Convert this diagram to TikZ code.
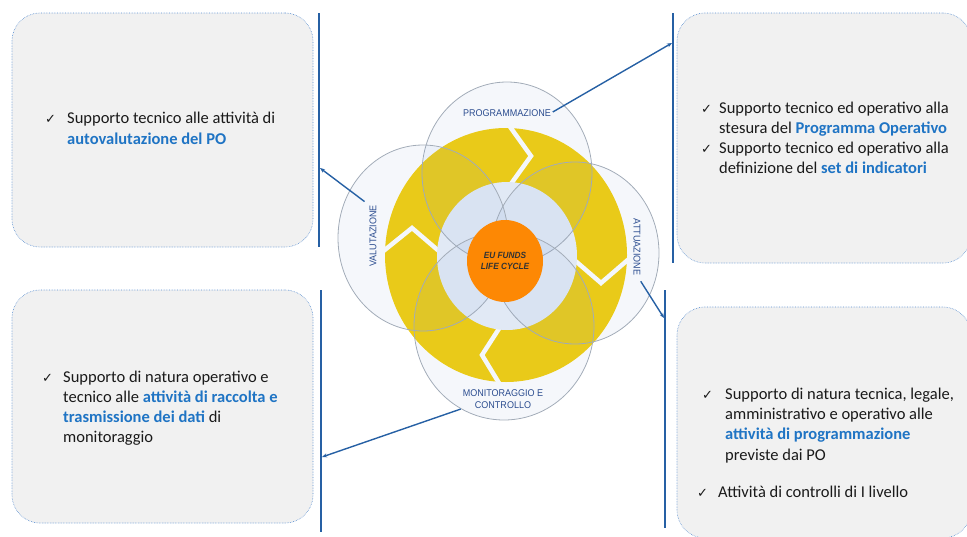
\documentclass[tikz,border=0pt]{standalone}
\usepackage{fontspec}
\setmainfont{Carlito}
\newfontfamily\lblfont[FakeStretch=0.92]{Liberation Sans}
\newfontfamily\chkfont{DejaVu Sans}
\usetikzlibrary{arrows.meta,shapes.geometric}

\definecolor{panelfill}{HTML}{F1F1F1}
\definecolor{paneledge}{HTML}{5A8FD0}
\definecolor{railblue}{HTML}{2660A4}
\definecolor{hlblue}{HTML}{1F74C4}
\definecolor{bodytext}{HTML}{1A1A1A}
\definecolor{ringgold}{HTML}{F3CE0A}
\definecolor{corefill}{HTML}{EAF0F9}
\definecolor{petalfill}{HTML}{7C9DD0}
\definecolor{petaledge}{HTML}{A3ACB8}
\definecolor{hubfill}{HTML}{FD8804}
\definecolor{labelblue}{HTML}{2B4C8F}
\definecolor{hubtext}{HTML}{333333}

\tikzset{
  panel/.style={draw=paneledge, densely dotted, line width=0.6pt, fill=panelfill,
    rounded corners=28pt, inner sep=0pt},
  rail/.style={draw=railblue, line width=2.2pt},
  petal/.style={draw=petaledge, line width=0.8pt, fill=petalfill, fill opacity=0.08},
  chevron/.style={draw=white, line width=4.5pt, line join=miter},
  stage/.style={font=\lblfont\fontsize{9.8}{11}\selectfont, text=labelblue, inner sep=0pt},
  leader/.style={draw=railblue, line width=1.4pt, -{Stealth[length=5pt,width=4pt]}},
  txt/.style={anchor=base west, inner sep=0pt, text=bodytext,
    font=\fontsize{16.5}{20}\selectfont},
  tick/.style={anchor=base west, inner sep=0pt, text=bodytext,
    font=\chkfont\fontsize{13}{14}\selectfont},
}
\newcommand\hl[1]{\textcolor{hlblue}{\bfseries #1}}

\begin{document}
\begin{tikzpicture}[x=1pt,y=-1pt]
\useasboundingbox (0,0) rectangle (967,536);
\clip (0,0) rectangle (967,536);

% ---- side panels ----
\node[panel, minimum width=301pt, minimum height=234pt] (pA) at (162.5,130) {};
\node[panel, minimum width=294pt, minimum height=250pt] (pB) at (824,138) {};
\node[panel, minimum width=301pt, minimum height=233pt] (pC) at (162.5,406.5) {};
\node[panel, minimum width=294pt, minimum height=231pt] (pD) at (824,422.5) {};

% ---- vertical rails beside the panels ----
\coordinate (r1t) at (319,13);  \coordinate (r1b) at (319,247);
\coordinate (r2t) at (673,13);  \coordinate (r2b) at (673,263);
\coordinate (r3t) at (321,290); \coordinate (r3b) at (321,532);
\coordinate (r4t) at (665,290); \coordinate (r4b) at (665,528);
\draw[rail] (r1t) -- (r1b);
\draw[rail] (r2t) -- (r2b);
\draw[rail] (r3t) -- (r3b);
\draw[rail] (r4t) -- (r4b);
\coordinate (r1k) at (320,168);
\coordinate (r2k) at (672,43);
\coordinate (r3k) at (322,457);
\coordinate (r4k) at (664,318);

% ---- life-cycle wheel ----
\fill[ringgold] (506,255) ellipse [x radius=121, y radius=127];
\draw[chevron] (508,124) -- (531,156) -- (508,188);
\draw[chevron] (630,258) -- (601,283) -- (572,258);
\draw[chevron] (502,388) -- (482,355) -- (502,324);
\draw[chevron] (381,253) -- (412,228) -- (440,252);
\fill[corefill] (507,256) ellipse [x radius=70, y radius=74];

\path[petal] (507,173) ellipse [x radius=85, y radius=91];
\path[petal] (575,253) ellipse [x radius=84, y radius=91];
\path[petal] (423,238) ellipse [x radius=85, y radius=93];
\path[petal] (504,326) ellipse [x radius=90, y radius=94];

\node[ellipse, fill=hubfill, minimum width=76pt, minimum height=82pt, inner sep=0pt,
  align=center, text=hubtext, font=\lblfont\bfseries\itshape\fontsize{9}{11.5}\selectfont]
  (hub) at (505,261) {EU FUNDS\\LIFE CYCLE};

% ---- stage labels ----
\node[stage] (lp) at (507,113) {PROGRAMMAZIONE};
\node[stage, rotate=90] (lv) at (373,236) {VALUTAZIONE};
\node[stage, rotate=-90] (la) at (637,247) {ATTUAZIONE};
\node[stage, align=center, font=\lblfont\fontsize{9.8}{11.5}\selectfont]
  (lm) at (503,399) {MONITORAGGIO E\\CONTROLLO};

% ---- leaders from stages to rails ----
\draw[leader, shorten <=2pt] (lp.east) -- (r2k);
\draw[leader, shorten <=6pt] (lv.north east) -- (r1k);
\draw[leader, shorten <=7pt] (la.east) -- (r4k);
\draw[leader, shorten <=2pt] (lm.south west) -- (r3k);

% ---- panel texts ----
\node[tick] (tA) at (45,123.5) {✓};
\node[txt] (a1) at (67,123.5) {Supporto tecnico alle attività di};
\node[txt] (a2) at (67,144) {\hl{autovalutazione del PO}};

\node[tick] (tB1) at (701,113) {✓};
\node[txt] (b1) at (719,113) {Supporto tecnico ed operativo alla};
\node[txt] (b2) at (719,133) {stesura del \hl{Programma Operativo}};
\node[tick] (tB2) at (701,153) {✓};
\node[txt] (b3) at (719,153) {Supporto tecnico ed operativo alla};
\node[txt] (b4) at (719,173) {definizione del \hl{set di indicatori}};

\node[tick] (tC) at (42,382) {✓};
\node[txt] (c1) at (63,382) {Supporto di natura operativo e};
\node[txt] (c2) at (63,402) {tecnico alle \hl{attività di raccolta e}};
\node[txt] (c3) at (63,422) {\hl{trasmissione dei dati} di};
\node[txt] (c4) at (63,442) {monitoraggio};

\node[tick] (tD1) at (702,399) {✓};
\node[txt] (d1) at (725,399) {Supporto di natura tecnica, legale,};
\node[txt] (d2) at (725,419) {amministrativo e operativo alle};
\node[txt] (d3) at (725,439.5) {\hl{attività di programmazione}};
\node[txt] (d4) at (725,460) {previste dai PO};
\node[tick] (tD2) at (697,497) {✓};
\node[txt] (d5) at (718,497) {Attività di controlli di I livello};
\end{tikzpicture}
\end{document}
